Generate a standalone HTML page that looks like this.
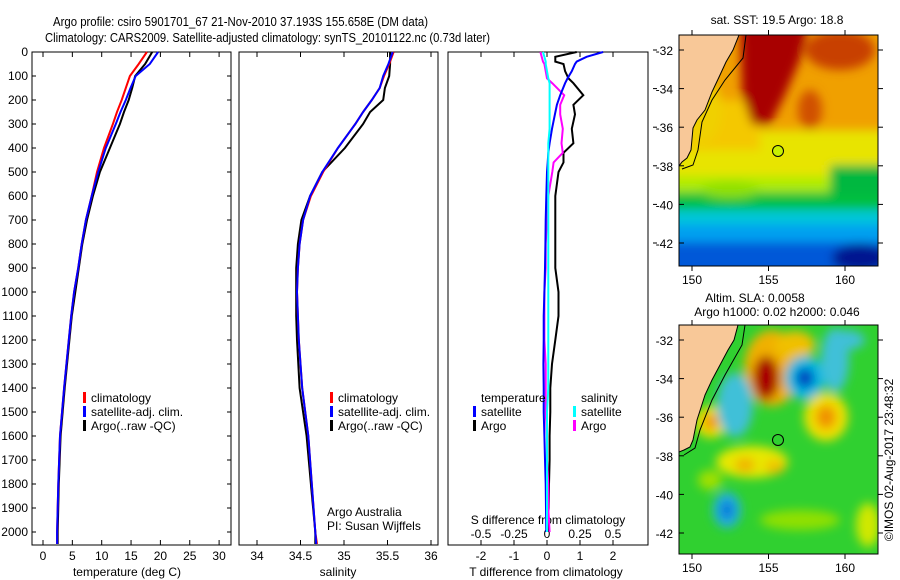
<!DOCTYPE html>
<html><head><meta charset="utf-8"><style>
html,body{margin:0;padding:0;background:#fff;}
svg{display:block;font-family:"Liberation Sans",sans-serif;}
text{font-size:12px;fill:#000;}
</style></head><body>
<svg id="chart" width="900" height="580" viewBox="0 0 900 580" xmlns="http://www.w3.org/2000/svg">
<defs>
<filter id="blur6" x="-50%" y="-50%" width="200%" height="200%"><feGaussianBlur stdDeviation="5"/></filter>
<clipPath id="clipTop"><rect x="679" y="35" width="199" height="231"/></clipPath>
<clipPath id="clipBot"><rect x="679" y="325" width="199" height="229"/></clipPath>
</defs>
<text x="53" y="26" textLength="375" lengthAdjust="spacingAndGlyphs" style="font-size:13px">Argo profile: csiro 5901701_67 21-Nov-2010 37.193S 155.658E (DM data)</text>
<text x="45" y="42" textLength="445" lengthAdjust="spacingAndGlyphs" style="font-size:13px">Climatology: CARS2009. Satellite-adjusted climatology: synTS_20101122.nc (0.73d later)</text>

<!-- SST map -->
<g>
<text x="777" y="24" text-anchor="middle">sat. SST: 19.5 Argo: 18.8</text>
<g clip-path="url(#clipTop)">
<rect x="679" y="35" width="199" height="231" fill="#f0a000"/>
<g filter="url(#blur6)">
<rect x="640" y="130" width="280" height="65" fill="#e8e400"/>
<rect x="640" y="100" width="120" height="50" fill="#f4c800"/>
<rect x="640" y="176" width="280" height="20" fill="#b0ec00"/>
<rect x="640" y="192" width="280" height="22" fill="#00c040"/>
<rect x="640" y="210" width="280" height="18" fill="#00c8d8"/>
<rect x="640" y="224" width="280" height="20" fill="#00a0f0"/>
<rect x="640" y="242" width="280" height="40" fill="#0058d8"/>
<ellipse cx="860" cy="258" rx="28" ry="14" fill="#001890"/>
<ellipse cx="730" cy="190" rx="30" ry="8" fill="#90e000"/>
<rect x="830" y="165" width="70" height="30" fill="#00b840"/>
<polygon points="740,20 810,20 800,60 785,95 770,125 752,125 742,95" fill="#a80000"/>
<ellipse cx="840" cy="50" rx="35" ry="20" fill="#c84000"/>
<ellipse cx="810" cy="110" rx="12" ry="20" fill="#d05000"/>
<ellipse cx="700" cy="110" rx="22" ry="35" fill="#f0d000"/>
</g>
<polygon points="679,35 739,35 733,50 726,62 720,75 712,92 705,110 697,120 693,128 691,150 687,158 682,162 679,166" fill="#f8c898" stroke="#000" stroke-width="1"/>
<polyline points="746,35 743,58 725,80 712,100 702,122 698,150 693,165 682,169" fill="none" stroke="#000" stroke-width="1"/>
<circle cx="778" cy="151" r="5.5" fill="#c8f000" stroke="#000" stroke-width="1"/>
</g>
<rect x="679" y="35" width="199" height="231" fill="none" stroke="#000" stroke-width="1"/>
</g>

<!-- SLA map -->
<g>
<text x="755" y="302" text-anchor="middle">Altim. SLA: 0.0058</text>
<text x="777" y="316" text-anchor="middle">Argo h1000: 0.02 h2000: 0.046</text>
<g clip-path="url(#clipBot)">
<rect x="679" y="325" width="199" height="229" fill="#30d030"/>
<g filter="url(#blur6)">
<ellipse cx="772" cy="368" rx="28" ry="38" fill="#f0b000"/>
<ellipse cx="795" cy="345" rx="20" ry="14" fill="#f0c000"/>
<ellipse cx="766" cy="378" rx="13" ry="22" fill="#a80000"/>
<ellipse cx="805" cy="378" rx="20" ry="22" fill="#00b8e0"/>
<ellipse cx="805" cy="378" rx="9" ry="10" fill="#0040c0"/>
<ellipse cx="826" cy="417" rx="22" ry="24" fill="#f0e000"/>
<ellipse cx="826" cy="417" rx="10" ry="12" fill="#f09000"/>
<ellipse cx="711" cy="422" rx="16" ry="16" fill="#f0e000"/>
<ellipse cx="711" cy="422" rx="7" ry="8" fill="#f09000"/>
<ellipse cx="735" cy="405" rx="18" ry="32" fill="#40c0d8"/>
<ellipse cx="835" cy="360" rx="14" ry="32" fill="#40c0d8"/>
<ellipse cx="845" cy="340" rx="20" ry="10" fill="#40c0d8"/>
<ellipse cx="752" cy="462" rx="36" ry="16" fill="#e8e800"/>
<ellipse cx="745" cy="465" rx="10" ry="7" fill="#f0b000"/>
<ellipse cx="775" cy="467" rx="10" ry="7" fill="#f0c000"/>
<ellipse cx="727" cy="510" rx="14" ry="18" fill="#20b0e0"/>
<ellipse cx="727" cy="510" rx="6" ry="9" fill="#0070d8"/>
<ellipse cx="868" cy="525" rx="12" ry="22" fill="#d0e800"/>
<ellipse cx="800" cy="520" rx="40" ry="10" fill="#90e000"/>
<ellipse cx="710" cy="480" rx="12" ry="10" fill="#a0e000"/>
</g>
<polygon points="679,325 738,325 734,340 728,350 720,365 712,380 705,395 697,420 693,440 690,447 684,450 679,452" fill="#f8c898" stroke="#000" stroke-width="1"/>
<polyline points="745,325 742,345 725,375 712,400 700,430 695,448 684,455" fill="none" stroke="#000" stroke-width="1"/>
<circle cx="778" cy="440" r="5.5" fill="#30d030" stroke="#000" stroke-width="1"/>
</g>
<rect x="679" y="325" width="199" height="229" fill="none" stroke="#000" stroke-width="1"/>
</g>
<text transform="translate(893,460) rotate(-90)" text-anchor="middle">©IMOS 02-Aug-2017 23:48:32</text>
<g id="dyn"></g>
</svg>
<script>
// ---- data ----
const depths = [0,50,100,150,200,250,300,400,500,600,700,800,900,1000,1100,1200,1400,1600,1800,2000,2050];
const tempClim = [17.7,16.3,14.8,14.1,13.4,12.6,11.9,10.4,9.2,8.3,7.3,6.6,6.0,5.3,4.8,4.4,3.6,2.9,2.6,2.4,2.4];
const tempSat  = [19.6,18.2,15.8,14.9,14.1,13.2,12.4,10.7,9.4,8.3,7.3,6.6,6.0,5.3,4.8,4.4,3.6,2.9,2.6,2.4,2.4];
const tempArgo = [18.6,17.4,15.7,15.2,14.6,13.8,13.1,11.4,9.7,8.5,7.5,6.7,6.1,5.5,4.9,4.5,3.7,3.0,2.7,2.5,2.5];
const salClim = [35.57,35.52,35.46,35.41,35.32,35.22,35.13,34.93,34.76,34.62,34.53,34.49,34.47,34.46,34.47,34.48,34.52,34.59,34.63,34.67,34.69];
const salSat  = [35.56,35.51,35.45,35.41,35.32,35.22,35.13,34.93,34.75,34.61,34.53,34.49,34.47,34.46,34.47,34.48,34.52,34.59,34.63,34.67,34.68];
const salArgo = [35.53,35.53,35.52,35.47,35.45,35.30,35.22,35.01,34.75,34.61,34.51,34.47,34.45,34.45,34.45,34.46,34.49,34.57,34.62,34.67,34.67];
const diffDepths = [0,20,40,50,80,110,130,180,220,260,320,380,420,460,500,600,700,800,900,1000,1100,1200,1300,1400,1500,1600,1700,1800,1900,2000];
const dTsat  = [1.7,1.2,0.9,0.85,0.75,0.62,0.55,0.4,0.3,0.24,0.15,0.08,0.04,0.02,0.0,-0.02,-0.04,-0.05,-0.06,-0.08,-0.1,-0.1,-0.11,-0.1,-0.1,-0.08,-0.06,-0.04,-0.03,-0.02];
const dTargo = [0.9,0.25,0.25,0.5,0.55,0.65,0.8,1.1,0.8,0.85,0.75,0.8,0.5,0.5,0.35,0.25,0.25,0.25,0.25,0.35,0.35,0.25,0.15,0.1,0.1,0.08,0.08,0.06,0.05,0.02];
const dSsat  = [-0.03,-0.02,-0.01,-0.01,0.0,0.01,0.02,0.02,0.02,0.02,0.02,0.01,0.01,0.01,0.01,0.01,0.01,0.01,0.01,0.01,0.01,0.01,0.01,0.01,0.0,0.0,0.0,0.0,0.0,0.0];
const dSargo = [-0.05,-0.04,-0.03,-0.02,-0.01,0.0,0.04,0.13,0.1,0.1,0.12,0.11,0.12,0.05,0.04,0.01,0.0,-0.01,-0.01,-0.02,-0.02,-0.02,-0.01,-0.01,-0.01,0.0,0.0,0.01,0.01,0.02];
const depthTicks = [0,100,200,300,400,500,600,700,800,900,1000,1100,1200,1300,1400,1500,1600,1700,1800,1900,2000];
const tempTicks = [0,5,10,15,20,25,30];
const salTicks = [34,34.5,35,35.5,36];
const salTickLabels = ["34","34.5","35","35.5","36"];
const dTTicks = [-2,-1,0,1,2];
const dSTicks = [-0.5,-0.25,0,0.25,0.5];
const dSTickLabels = ["-0.5","-0.25","0","0.25","0.5"];
const latTicks = [-32,-34,-36,-38,-40,-42];
const lonTicks = [150,155,160];

// ---- scales ----
const TOP=52, BOT=545;
const yD = d => TOP + d*0.24;
const xT = t => 43 + t*5.87;
const xS = s => 257 + (s-34)*87;
const xDT = t => 547 + t*33;
const xDS = s => 547 + s*132;
const yLatA = l => 50 + (-32 - l)*19.3;
const yLatB = l => 340 + (-32 - l)*19.3;
const xLon = l => 692 + (l-150)*15.3;

const NS="http://www.w3.org/2000/svg";
const root=document.getElementById('dyn');
function mk(tag, attrs, parent){const e=document.createElementNS(NS,tag);for(const k in attrs)e.setAttribute(k,attrs[k]);(parent||root).appendChild(e);return e;}
function txt(x,y,s,anchor,parent){const e=mk('text',{x:x,y:y,'text-anchor':anchor||'start'},parent);e.textContent=s;return e;}

const panels=[[32,231,'temperature-panel'],[239,438,'salinity-panel'],[448,648,'difference-panel']];
panels.forEach(p=>{
  const r=mk('rect',{x:p[0],y:TOP,width:p[1]-p[0],height:BOT-TOP,fill:'none',stroke:'#000','stroke-width':1});
  
  
});
depthTicks.forEach(d=>{
  const y=yD(d);
  const t=txt(28,y+4,String(d),'end');
  
  
  mk('line',{x1:32,x2:36,y1:y,y2:y,stroke:'#000'});
  mk('line',{x1:227,x2:231,y1:y,y2:y,stroke:'#000'});
});
tempTicks.forEach(t=>{
  const x=xT(t);
  mk('line',{x1:x,x2:x,y1:BOT,y2:BOT-5,stroke:'#000'});
  mk('line',{x1:x,x2:x,y1:TOP,y2:TOP+5,stroke:'#000'});
  const e=txt(x,560,String(t),'middle');
  
  
});
let e=txt(127,576,'temperature (deg C)','middle');


salTicks.forEach((s,i)=>{
  const x=xS(s);
  mk('line',{x1:x,x2:x,y1:BOT,y2:BOT-5,stroke:'#000'});
  mk('line',{x1:x,x2:x,y1:TOP,y2:TOP+5,stroke:'#000'});
  const t=txt(x,560,salTickLabels[i],'middle');
  
  
});
e=txt(338,576,'salinity','middle');


dTTicks.forEach(t=>{
  const x=xDT(t);
  mk('line',{x1:x,x2:x,y1:BOT,y2:BOT-5,stroke:'#000'});
  mk('line',{x1:x,x2:x,y1:TOP,y2:TOP+5,stroke:'#000'});
  const l=txt(x,560,String(t),'middle');
  
  
});
dSTicks.forEach((s,i)=>{
  const x=xDS(s);
  mk('line',{x1:x,x2:x,y1:BOT,y2:BOT-3,stroke:'#000'});
  const l=txt(x,538,dSTickLabels[i],'middle');
  
  
});
e=txt(548,524,'S difference from climatology','middle');


e=txt(546,576,'T difference from climatology','middle');


latTicks.forEach(l=>{
  const y=yLatA(l);
  mk('line',{x1:653,x2:657,y1:y,y2:y,stroke:'#000'});
});

function line(xs,ds,xf,color,name){
  const pts=ds.map((d,i)=>xf(xs[i]).toFixed(1)+','+yD(d).toFixed(1)).join(' ');
  const p=mk('polyline',{points:pts,fill:'none',stroke:color,'stroke-width':2});
  
  
}
line(tempArgo,depths,xT,'#000','temp-argo-line');
line(tempClim,depths,xT,'#ff0000','temp-climatology-line');
line(tempSat,depths,xT,'#0000ff','temp-satellite-line');
line(salArgo,depths,xS,'#000','sal-argo-line');
line(salClim,depths,xS,'#ff0000','sal-climatology-line');
line(salSat,depths,xS,'#0000ff','sal-satellite-line');
line(dTargo,diffDepths,xDT,'#000','t-diff-argo-line');
line(dSargo,diffDepths,xDS,'#ff00ff','s-diff-argo-line');
line(dTsat,diffDepths,xDT,'#0000ff','t-diff-satellite-line');
line(dSsat,diffDepths,xDS,'#00ffff','s-diff-satellite-line');

function legendEntry(x,y,color,label,name){
  mk('rect',{x:x,y:y-10,width:3,height:11,fill:color});
  const t=txt(x+8,y,label);
  
  
}
[[83],[330]].forEach(p=>{
  legendEntry(p[0],402,'#ff0000','climatology','legend-climatology');
  legendEntry(p[0],416,'#0000ff','satellite-adj. clim.','legend-satellite-adj');
  legendEntry(p[0],430,'#000','Argo(..raw -QC)','legend-argo');
});
e=txt(481,402,'temperature');


e=txt(581,402,'salinity');


legendEntry(473,416,'#0000ff','satellite','legend-t-satellite');
legendEntry(473,430,'#000','Argo','legend-t-argo');
legendEntry(573,416,'#00ffff','satellite','legend-s-satellite');
legendEntry(573,430,'#ff00ff','Argo','legend-s-argo');
e=txt(327,516,'Argo Australia');


e=txt(327,530,'PI: Susan Wijffels');



[[yLatA,35,266,'sst'],[yLatB,325,554,'sla']].forEach(m=>{
  latTicks.forEach(l=>{
    const y=m[0](l);
    mk('line',{x1:679,x2:684,y1:y,y2:y,stroke:'#000'});
    mk('line',{x1:878,x2:883,y1:y,y2:y,stroke:'#000'});
    const t=txt(673,y+5,String(l),'end');
    
    
  });
  lonTicks.forEach(l=>{
    const x=xLon(l);
    mk('line',{x1:x,x2:x,y1:m[1]-5,y2:m[1],stroke:'#000'});
    mk('line',{x1:x,x2:x,y1:m[2],y2:m[2]+5,stroke:'#000'});
    const t=txt(x,m[2]+18,String(l),'middle');
    
    
  });
});
</script>
</body></html>
